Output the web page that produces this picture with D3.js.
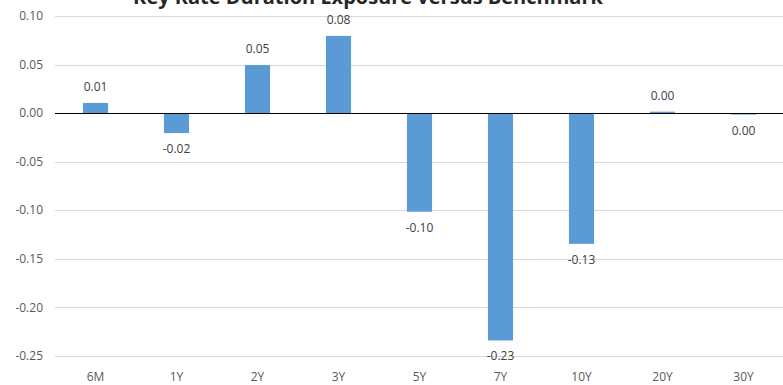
<!DOCTYPE html>
<html>
<head>
<meta charset="utf-8">
<script src="https://cdn.jsdelivr.net/npm/d3@7"></script>
<style>
  html, body { margin: 0; padding: 0; background: #fff; }
  svg { display: block; font-family: "Open Sans", "Liberation Sans", sans-serif; }
</style>
</head>
<body>
<div id="viz"></div>
<script>
const W = 783;
const H = 385;

const TITLE = 'Key Rate Duration Exposure versus Benchmark';
const tenors = ['6M', '1Y', '2Y', '3Y', '5Y', '7Y', '10Y', '20Y', '30Y'];
const exposure = [0.0105, -0.0205, 0.0495, 0.0795, -0.1015, -0.234, -0.1345, 0.0015, -0.0015];
const yTicks = [0.10, 0.05, 0.00, -0.05, -0.10, -0.15, -0.20, -0.25];

const margin = { top: 16, right: 0, bottom: 29, left: 55 };

// excel style: plain hyphen, never a negative zero
const fmt = (v) => d3.format('.2f')(Math.abs(v) < 0.005 ? 0 : v).replace('\u2212', '-');

const svg = d3.select('#viz')
  .append('svg')
  .attr('width', W)
  .attr('height', H);

const x = d3.scaleBand()
  .domain(tenors)
  .range([margin.left, W + 1])
  .paddingInner(0.69)
  .paddingOuter(0.345);

const y = d3.scaleLinear()
  .domain([-0.25, 0.10])
  .range([H - margin.bottom, margin.top]);

// gridlines
svg.append('g')
  .selectAll('line')
  .data(yTicks.filter((t) => t !== 0))
  .join('line')
  .attr('x1', margin.left)
  .attr('x2', W)
  .attr('y1', (d) => Math.round(y(d)) + 0.5)
  .attr('y2', (d) => Math.round(y(d)) + 0.5)
  .attr('stroke', '#d9d9d9')
  .attr('stroke-width', 1);

// y tick labels
svg.append('g')
  .selectAll('text')
  .data(yTicks)
  .join('text')
  .attr('x', 43)
  .attr('y', (d) => y(d))
  .attr('dy', '0.35em')
  .attr('text-anchor', 'end')
  .attr('font-size', 12)
  .attr('fill', '#595959')
  .text(fmt);

const rows = tenors.map((t, i) => ({ t, v: exposure[i] }));

// bars
svg.append('g')
  .selectAll('rect')
  .data(rows)
  .join('rect')
  .attr('x', (d) => x(d.t))
  .attr('width', x.bandwidth())
  .attr('y', (d) => y(Math.max(0, d.v)))
  .attr('height', (d) => Math.abs(y(d.v) - y(0)))
  .attr('fill', '#5b9bd5');

// zero line
svg.append('line')
  .attr('x1', margin.left)
  .attr('x2', W)
  .attr('y1', Math.round(y(0)) + 0.5)
  .attr('y2', Math.round(y(0)) + 0.5)
  .attr('stroke', '#000')
  .attr('stroke-width', 1.2);

// value labels
svg.append('g')
  .selectAll('text')
  .data(rows)
  .join('text')
  .attr('x', (d) => x(d.t) + x.bandwidth() / 2)
  .attr('y', (d) => (d.v >= 0 ? y(d.v) - 12 : y(d.v) + 20))
  .attr('text-anchor', 'middle')
  .attr('font-size', 12)
  .attr('fill', '#404040')
  .text((d) => fmt(d.v));

// category labels
svg.append('g')
  .selectAll('text')
  .data(tenors)
  .join('text')
  .attr('x', (d) => x(d) + x.bandwidth() / 2)
  .attr('y', H - 4)
  .attr('text-anchor', 'middle')
  .attr('font-size', 12)
  .attr('fill', '#595959')
  .text((d) => d);

// title, cut off by the top edge as in the source image
svg.append('text')
  .attr('x', 368)
  .attr('y', 4)
  .attr('text-anchor', 'middle')
  .attr('font-size', 20)
  .attr('font-weight', 700)
  .attr('fill', '#262626')
  .text(TITLE);
</script>
</body>
</html>
